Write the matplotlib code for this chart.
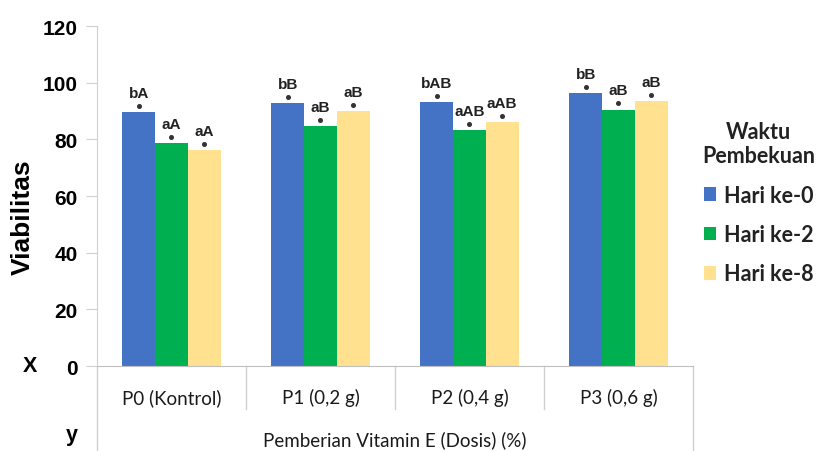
import matplotlib.pyplot as plt
import numpy as np

categories = ['P0 (Kontrol)', 'P1 (0,2 g)', 'P2 (0,4 g)', 'P3 (0,6 g)']
series = ['Hari ke-0', 'Hari ke-2', 'Hari ke-8']
hari0 = [89.6, 92.7, 93.3, 96.4]
hari2 = [78.7, 84.6, 83.3, 90.5]
hari8 = [76.2, 89.9, 86.0, 93.4]
notes0 = ['bA', 'bB', 'bAB', 'bB']
notes2 = ['aA', 'aB', 'aAB', 'aB']
notes8 = ['aA', 'aB', 'aAB', 'aB']
colors = ['#4472C4', '#00B050', '#FFE18F']

values = [hari0, hari2, hari8]
notes = [notes0, notes2, notes8]

fig = plt.figure(figsize=(8.19, 4.52), dpi=100)
ax = fig.add_axes([0.1184, 0.188, 0.7277, 0.752])

x = np.arange(len(categories))
w = 0.22
for i, (vals, lab, col) in enumerate(zip(values, series, colors)):
    pos = x + (i - 1) * w
    ax.bar(pos, vals, width=w, color=col, label=lab)
    # small significance marks above each bar
    ax.plot(pos, np.array(vals) + 2.2, linestyle='none', marker='o',
            markersize=2.6, color='#333333')
    for px, v, t in zip(pos, vals, notes[i]):
        ax.text(px, v + 4.3, t, ha='center', va='bottom', fontsize=11,
                family='Liberation Sans', fontweight='bold', color='#222222')

ax.set_xlim(-0.5, 3.5)
ax.set_ylim(0, 120)
ax.set_yticks(range(0, 121, 20))
ax.set_xticks([])
for lbl in ax.get_yticklabels():
    lbl.set_family('Liberation Sans')
    lbl.set_fontweight('bold')
    lbl.set_fontsize(15)
ax.tick_params(axis='y', length=8, color='#D0D0D0', pad=6)
ax.spines['top'].set_visible(False)
ax.spines['right'].set_visible(False)
ax.spines['left'].set_color('#D0D0D0')
ax.spines['bottom'].set_color('#BFBFBF')

# table-like category axis below the plot
trans = ax.transAxes
for xb in [0.25, 0.5, 0.75]:
    ax.plot([xb, xb], [0, -0.126], transform=trans, color='#D0D0D0',
            lw=1, clip_on=False)
for xb in [0.0, 1.0]:
    ax.plot([xb, xb], [0, -0.26], transform=trans, color='#D0D0D0',
            lw=1, clip_on=False)
for i, c in enumerate(categories):
    ax.text((i + 0.5) / 4, -0.091, c, transform=trans, ha='center',
            va='center', fontsize=13.5, family='Lato', color='#1a1a1a')
ax.text(0.5, -0.215, 'Pemberian Vitamin E (Dosis) (%)', transform=trans,
        ha='center', va='center', fontsize=13.5, family='Lato', color='#1a1a1a')

fig.text(0.028, 0.52, 'Viabilitas', rotation=90, ha='center', va='center',
         fontsize=19, fontweight='bold', family='Liberation Sans')
fig.text(0.037, 1 - 367 / 452, 'X', ha='center', va='center',
         fontsize=15.5, fontweight='bold', family='Liberation Sans')
fig.text(0.088, 1 - 436 / 452, 'y', ha='center', va='center',
         fontsize=15.5, fontweight='bold', family='Liberation Sans')

leg = ax.legend(loc='upper left', bbox_to_anchor=(0.99, 0.765), frameon=False,
                title='Waktu\nPembekuan', handlelength=0.6, handleheight=0.6,
                handletextpad=0.35, labelspacing=0.85, borderaxespad=0.3,
                prop={'family': 'Lato', 'weight': 'bold', 'size': 15.5})
leg.get_title().set_fontproperties({'family': 'Lato', 'weight': 'bold', 'size': 15.5})
leg.get_title().set_multialignment('center')
leg.get_title().set_color('#222222')
for t in leg.get_texts():
    t.set_color('#222222')

fig.savefig('out.png', dpi=100)
